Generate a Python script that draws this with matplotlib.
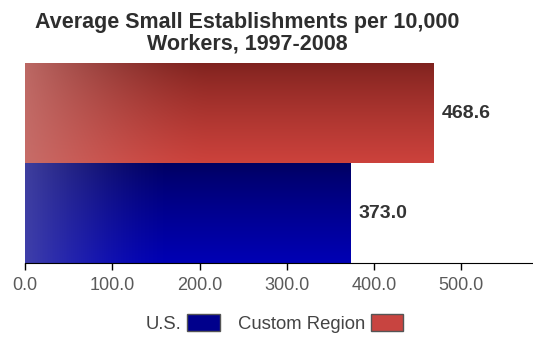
import numpy as np
import matplotlib.pyplot as plt
from matplotlib.patches import Patch

plt.rcParams['font.family'] = ['Liberation Sans', 'DejaVu Sans']

# chart data
regions = ["U.S.", "Custom Region"]
values = [373.0, 468.6]
value_labels = ["373.0", "468.6"]
ticks = [0, 100, 200, 300, 400, 500]
tick_labels = ["0.0", "100.0", "200.0", "300.0", "400.0", "500.0"]

# (top colour, bottom colour, left highlight) for the shaded fills
shades = {
    "U.S.": ("#000060", "#0000b4", "#4a4aa8"),
    "Custom Region": ("#7e221e", "#cc423c", "#c67470"),
}
legend_colors = {"U.S.": "#00008c", "Custom Region": "#c84440"}


def rgb(h):
    h = h.lstrip('#')
    return np.array([int(h[i:i + 2], 16) / 255 for i in (0, 2, 4)])


def shade_image(top, bottom, light, nx=200, ny=60):
    s = np.linspace(0, 1, nx)[None, :, None]
    t = np.linspace(0, 1, ny)[:, None, None]
    c = rgb(top) * (1 - t ** 0.8) + rgb(bottom) * t ** 0.8
    w = np.clip(1 - s / 0.45, 0, 1) ** 1.5 * 0.85
    c = c * (1 - w) + rgb(light) * w
    return np.clip(c, 0, 1)


fig = plt.figure(figsize=(5.33, 3.37), dpi=100)
ax = fig.add_axes([0.047, 0.2196, 0.953, 0.5934])

bars = ax.barh(range(len(regions)), values, height=1.0, color="none",
               edgecolor="none")
for bar, name in zip(bars, regions):
    x0, y0 = bar.get_x(), bar.get_y()
    w, h = bar.get_width(), bar.get_height()
    img = shade_image(*shades[name])
    # row 0 of the image is the top edge of the bar
    im = ax.imshow(img, extent=[x0, x0 + w, y0, y0 + h], origin="upper",
                   aspect="auto", zorder=2, interpolation="bilinear")
    im.set_clip_path(bar)

for i, (v, lab) in enumerate(zip(values, value_labels)):
    ax.text(v + 9, i, lab, va="center", ha="left", fontsize=14,
            fontweight="bold", color="#333333")

ax.set_xlim(0, 582)
ax.set_ylim(-0.5, 1.5)
ax.set_xticks(ticks)
ax.set_xticklabels(tick_labels, fontsize=13, color="#5a5a5a")
ax.set_yticks([])
ax.tick_params(axis="x", direction="out", length=5, width=1, color="black", pad=5)
for side in ("left", "top", "right"):
    ax.spines[side].set_visible(False)
ax.spines["bottom"].set_color("black")

fig.text(0.464, 0.965, "Average Small Establishments per 10,000\nWorkers, 1997-2008",
         ha="center", va="top", fontsize=15.5, fontweight="bold",
         color="#2e2e2e", linespacing=1.05)

handles = [Patch(facecolor=legend_colors[n], edgecolor="#555555") for n in regions]
fig.legend(handles, regions, loc="center", bbox_to_anchor=(0.515, 0.04),
           ncol=2, frameon=False, markerfirst=False, fontsize=13.3,
           handlelength=1.75, handleheight=1.0, columnspacing=1.0,
           handletextpad=0.3, labelcolor="#444444")

fig.savefig("out.png", dpi=100)
